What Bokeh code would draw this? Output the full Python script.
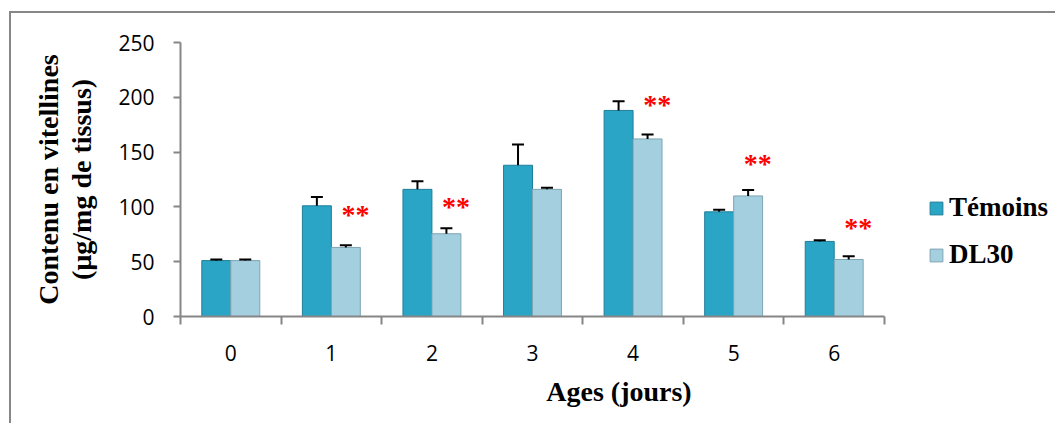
from bokeh.plotting import figure
from bokeh.models import (Range1d, FixedTicker, Whisker, ColumnDataSource, Legend,
                          LegendItem, TeeHead)
from bokeh.core.properties import value
from bokeh.embed import file_html
from bokeh.resources import INLINE

# ---- data ----
ages = ["0", "1", "2", "3", "4", "5", "6"]
temoins = [51, 101, 116, 138, 188, 95.5, 68.5]
temoins_err = [1, 8, 7.5, 19, 8.5, 2, 1]
dl30 = [51, 63, 75.5, 116, 162, 110, 52]
dl30_err = [1, 2, 5, 1.5, 4, 5.5, 3]
sig_ages = ["1", "2", "4", "5", "6"]
sig_levels = [93, 100, 193, 140, 81]
y_ticks = [0, 50, 100, 150, 200, 250]

# ---- styling / layout ----
BAR_W = 0.288
SERIF = "Liberation Serif"
SANS = "Open Sans"
AXIS_GREY = "#868686"
C_TEM = "#2aa5c6"
C_TEM_LINE = "#1f7f99"
C_DL = "#a4cfdf"
C_DL_LINE = "#7ea5b4"

W, H = 1046, 412
LEFT, TOP, AXIS_PX, FRAME_H = 169, 29, 704, 274
n = len(ages)
x_end = -0.5 + n * (W - LEFT) / AXIS_PX

xs = [int(a) for a in ages]
src_t = ColumnDataSource(dict(x=[x - BAR_W / 2 for x in xs], top=temoins,
                              up=[v + e for v, e in zip(temoins, temoins_err)]))
src_d = ColumnDataSource(dict(x=[x + BAR_W / 2 for x in xs], top=dl30,
                              up=[v + e for v, e in zip(dl30, dl30_err)]))
src_s = ColumnDataSource(dict(x=[int(a) + 0.24 for a in sig_ages], y=sig_levels,
                              t=["**"] * len(sig_ages)))

p = figure(width=W, height=H,
           x_range=Range1d(-0.5, x_end), y_range=Range1d(0, 250),
           output_backend="svg", toolbar_location=None,
           min_border_left=LEFT, min_border_right=0,
           min_border_top=TOP, min_border_bottom=H - TOP - FRAME_H,
           outline_line_color=None,
           margin=(13, 0, 0, 11),
           styles={"box-shadow": "-2px -2px 0 0 #878787"})
p.grid.visible = False

r1 = p.vbar(x="x", top="top", width=BAR_W, source=src_t,
            fill_color=C_TEM, line_color=C_TEM_LINE, line_width=1)
r2 = p.vbar(x="x", top="top", width=BAR_W, source=src_d,
            fill_color=C_DL, line_color=C_DL_LINE, line_width=1)

for src in (src_t, src_d):
    w = Whisker(base="x", lower="top", upper="up", source=src,
                upper_head=TeeHead(size=12, line_width=2, line_color="black"),
                lower_head=None, line_width=2, line_color="black", level="overlay")
    p.add_layout(w)

p.text(x="x", y="y", text="t", source=src_s, text_color="red",
       text_font=value(SERIF), text_font_size="28px", text_font_style="bold",
       text_align="center", text_baseline="middle")

# x axis
xa = p.xaxis[0]
xa.bounds = (-0.5, n - 0.5)
xa.ticker = FixedTicker(ticks=xs, minor_ticks=[x - 0.5 for x in xs] + [xs[-1] + 0.5])
xa.major_label_overrides = {x: a for x, a in zip(xs, ages)}
xa.major_tick_line_color = None
xa.major_tick_out = 0
xa.major_tick_in = 0
xa.minor_tick_line_color = AXIS_GREY
xa.minor_tick_line_width = 2
xa.minor_tick_out = 8
xa.minor_tick_in = 0
xa.axis_line_color = AXIS_GREY
xa.axis_line_width = 2
xa.major_label_text_font = SANS
xa.major_label_text_font_size = "21px"
xa.major_label_text_color = "black"
xa.major_label_standoff = 20
xa.axis_label = "Ages (jours)"
xa.axis_label_text_font = SERIF
xa.axis_label_text_font_style = "bold"
xa.axis_label_text_font_size = "28px"
xa.axis_label_text_color = "black"
xa.axis_label_standoff = 12

# y axis
ya = p.yaxis[0]
ya.ticker = FixedTicker(ticks=y_ticks)
ya.minor_tick_line_color = None
ya.major_tick_line_color = AXIS_GREY
ya.major_tick_line_width = 2
ya.major_tick_out = 7
ya.major_tick_in = 0
ya.axis_line_color = AXIS_GREY
ya.axis_line_width = 2
ya.major_label_text_font = SANS
ya.major_label_text_font_size = "21px"
ya.major_label_text_color = "black"
ya.major_label_standoff = 19
ya.axis_label = "Contenu en vitellines\n(µg/mg de tissus)"
ya.axis_label_text_font = SERIF
ya.axis_label_text_font_style = "bold"
ya.axis_label_text_font_size = "28px"
ya.axis_label_text_color = "black"
ya.axis_label_text_line_height = 1.08
ya.axis_label_standoff = 18

legend = Legend(items=[LegendItem(label="Témoins", renderers=[r1]),
                       LegendItem(label="DL30", renderers=[r2])],
                location=(748, 46), orientation="vertical",
                label_text_font=SERIF, label_text_font_style="bold",
                label_text_font_size="27px", label_text_color="black",
                glyph_width=16, glyph_height=16, label_standoff=5,
                spacing=16, padding=0, margin=0,
                border_line_color=None, background_fill_alpha=0)
p.add_layout(legend)

open("out.html", "w").write(file_html(p, INLINE))
